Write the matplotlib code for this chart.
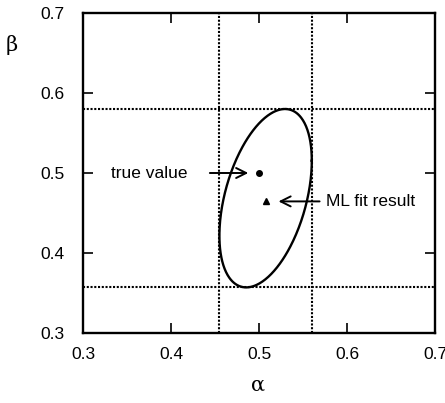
import numpy as np
import matplotlib.pyplot as plt

# true parameter value and ML fit result
true_val = [0.500, 0.500]
ml_fit = [0.5075, 0.4685]
# standard deviations and correlation from the fit
sig_alpha = 0.0525
sig_beta = 0.1115
rho = 0.42

ticks = [0.3, 0.4, 0.5, 0.6, 0.7]
tick_labels = ["0.3", "0.4", "0.5", "0.6", "0.7"]

# error ellipse (1 sigma contour)
t = np.linspace(0, 2 * np.pi, 400)
ex = ml_fit[0] + sig_alpha * np.cos(t)
ey = ml_fit[1] + sig_beta * (rho * np.cos(t) + np.sqrt(1 - rho ** 2) * np.sin(t))

fig = plt.figure(figsize=(4.45, 4.03), dpi=100)
ax = fig.add_axes([83 / 445, 1 - 333 / 403, 352 / 445, 320 / 403])

ax.plot(ex, ey, color="black", lw=1.7)

# +/- 1 sigma lines
for xv in (ml_fit[0] - sig_alpha, ml_fit[0] + sig_alpha):
    ax.axvline(xv, color="black", lw=1.5, ls=(0, (1, 0.8)))
for yv in (ml_fit[1] - sig_beta, ml_fit[1] + sig_beta):
    ax.axhline(yv, color="black", lw=1.5, ls=(0, (1, 0.8)))

ax.plot(true_val[0], true_val[1], "o", color="black", ms=4)
ax.plot(0.5085, 0.4645, "^", color="black", ms=5)

font = dict(family="Liberation Sans", fontsize=12.5)
ax.annotate("", xy=(0.491, 0.5), xytext=(0.441, 0.5),
            arrowprops=dict(arrowstyle="->", lw=1.4, color="black",
                            mutation_scale=18))
ax.text(0.419, 0.5, "true value", ha="right", va="center", **font)
ax.annotate("", xy=(0.519, 0.4645), xytext=(0.572, 0.4645),
            arrowprops=dict(arrowstyle="->", lw=1.4, color="black",
                            mutation_scale=18))
ax.text(0.576, 0.4645, "ML fit result", ha="left", va="center", **font)

ax.set_xlim(0.3, 0.7)
ax.set_ylim(0.3, 0.7)
ax.set_xticks(ticks)
ax.set_yticks(ticks)
ax.set_xticklabels(tick_labels, **font)
ax.set_yticklabels(tick_labels, **font)
ax.tick_params(direction="in", length=7, width=1.2, top=True, right=True)
ax.tick_params(axis="x", pad=10)
ax.tick_params(axis="y", pad=13)
for s in ax.spines.values():
    s.set_linewidth(1.7)

fig.text(258 / 445, 1 - 385 / 403, "α", ha="center", va="center",
         family="DejaVu Serif", fontsize=15)
fig.text(12 / 445, 1 - 45 / 403, "β", ha="center", va="center",
         family="DejaVu Serif", fontsize=15)

fig.savefig("out.png", dpi=100)
